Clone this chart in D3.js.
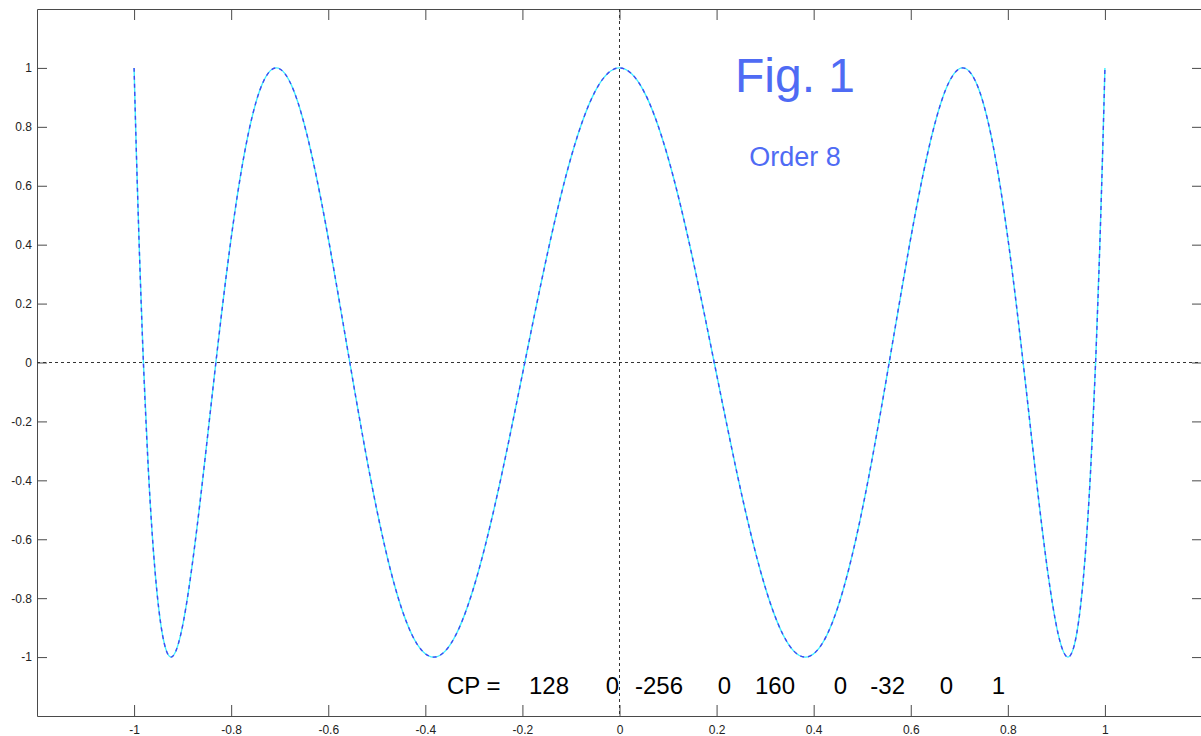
<!DOCTYPE html>
<html>
<head>
<meta charset="utf-8">
<script src="https://cdn.jsdelivr.net/npm/d3@7"></script>
<style>
  body { margin: 0; background: #fff; }
  svg { display: block; font-family: "Liberation Sans", Arial, sans-serif; }
  .axis path, .axis line { stroke: #4a4a4a; }
  .axis text { fill: #222; font-size: 12px; font-family: "Liberation Sans", Arial, sans-serif; }
</style>
</head>
<body>
<div id="chart"></div>
<script>
// curve points (x, y)
var xs = [-1, -0.9988, -0.9952, -0.9892, -0.9808, -0.97, -0.9569, -0.9415, -0.9239, -0.904,
  -0.8819, -0.8577, -0.8315, -0.8032, -0.773, -0.741, -0.7071, -0.6714, -0.6344, -0.5957,
  -0.5556, -0.5141, -0.4714, -0.4276, -0.3827, -0.3369, -0.2903, -0.243, -0.1951, -0.1467,
  -0.098, -0.0491, 0, 0.0491, 0.098, 0.1467, 0.1951, 0.243, 0.2903, 0.3369,
  0.3827, 0.4276, 0.4714, 0.5141, 0.5556, 0.5957, 0.6344, 0.6714, 0.7071, 0.741,
  0.773, 0.8032, 0.8315, 0.8577, 0.8819, 0.904, 0.9239, 0.9415, 0.9569, 0.97,
  0.9808, 0.9892, 0.9952, 0.9988, 1];
var ys = [1, 0.924, 0.707, 0.383, 0, -0.383, -0.707, -0.924, -1, -0.924, -0.707, -0.383, 0, 0.383, 0.707, 0.924,
  1, 0.924, 0.707, 0.383, 0, -0.383, -0.707, -0.924, -1, -0.924, -0.707, -0.383, 0, 0.383, 0.707, 0.924,
  1, 0.924, 0.707, 0.383, 0, -0.383, -0.707, -0.924, -1, -0.924, -0.707, -0.383, 0, 0.383, 0.707, 0.924,
  1, 0.924, 0.707, 0.383, 0, -0.383, -0.707, -0.924, -1, -0.924, -0.707, -0.383, 0, 0.383, 0.707, 0.924,
  1];

var xTicks = [-1, -0.8, -0.6, -0.4, -0.2, 0, 0.2, 0.4, 0.6, 0.8, 1];
var yTicks = [-1, -0.8, -0.6, -0.4, -0.2, 0, 0.2, 0.4, 0.6, 0.8, 1];
var coeffs = [128, 0, -256, 0, 160, 0, -32, 0, 1];
var title = "Fig. 1";
var subtitle = "Order 8";

var W = 1201, H = 736;
var margin = {top: 9, left: 37},
    width = 1165,
    height = 707;

var svg = d3.select("#chart").append("svg")
    .attr("width", W)
    .attr("height", H);

var g = svg.append("g")
    .attr("transform", "translate(" + margin.left + "," + margin.top + ")");

var xScale = d3.scaleLinear().domain([-1.2, 1.2]).range([0, width]);
var yScale = d3.scaleLinear().domain([-1.2, 1.2]).range([height, 0]);

var fmt = function(d) { return String(+d.toFixed(1)); };

// axes, ticks pointing inward like matlab
g.append("g").attr("class", "axis")
    .attr("transform", "translate(0," + height + ")")
    .call(d3.axisBottom(xScale).tickValues(xTicks).tickFormat(fmt).tickSizeInner(-11).tickSizeOuter(0).tickPadding(9));
g.append("g").attr("class", "axis")
    .call(d3.axisTop(xScale).tickValues(xTicks).tickFormat("").tickSizeInner(-11).tickSizeOuter(0));
g.append("g").attr("class", "axis")
    .call(d3.axisLeft(yScale).tickValues(yTicks).tickFormat(fmt).tickSizeInner(-10).tickSizeOuter(0).tickPadding(5));
g.append("g").attr("class", "axis")
    .attr("transform", "translate(" + width + ",0)")
    .call(d3.axisRight(yScale).tickValues(yTicks).tickFormat("").tickSizeInner(-10).tickSizeOuter(0));

g.selectAll(".axis text").attr("font-size", 12);

// zero lines
g.append("line")
    .attr("x1", xScale(0)).attr("x2", xScale(0))
    .attr("y1", 0).attr("y2", height)
    .attr("stroke", "#333").attr("stroke-dasharray", "3,3");
g.append("line")
    .attr("x1", 0).attr("x2", width)
    .attr("y1", yScale(0)).attr("y2", yScale(0))
    .attr("stroke", "#333").attr("stroke-dasharray", "3,3");

var pts = xs.map(function(x, i) { return [x, ys[i]]; });
var line = d3.line()
    .x(function(d) { return xScale(d[0]); })
    .y(function(d) { return yScale(d[1]); })
    .curve(d3.curveNatural);

// cyan under, blue dashes on top
g.append("path").datum(pts)
    .attr("d", line)
    .attr("fill", "none")
    .attr("stroke", "#3cf0ff")
    .attr("stroke-width", 1.4);
g.append("path").datum(pts)
    .attr("d", line)
    .attr("fill", "none")
    .attr("stroke", "#4646f0")
    .attr("stroke-width", 1.4)
    .attr("stroke-dasharray", "4,4");

// labels
svg.append("text")
    .attr("x", 795).attr("y", 92)
    .attr("text-anchor", "middle")
    .attr("font-size", 48)
    .attr("fill", "#4f6bf4")
    .text(title);
svg.append("text")
    .attr("x", 795).attr("y", 166)
    .attr("text-anchor", "middle")
    .attr("font-size", 27)
    .attr("fill", "#4f6bf4")
    .text(subtitle);

var cpY = 694;
svg.append("text")
    .attr("x", 447).attr("y", cpY)
    .attr("font-size", 24)
    .attr("fill", "#000")
    .text("CP =");
var cpRight = [569, 619, 683, 731, 795, 847, 905, 953, 1005];
svg.selectAll(".cp")
    .data(coeffs)
    .enter().append("text")
    .attr("class", "cp")
    .attr("x", function(d, i) { return cpRight[i]; })
    .attr("y", cpY)
    .attr("text-anchor", "end")
    .attr("font-size", 24)
    .attr("fill", "#000")
    .text(function(d) { return d; });
</script>
</body>
</html>
